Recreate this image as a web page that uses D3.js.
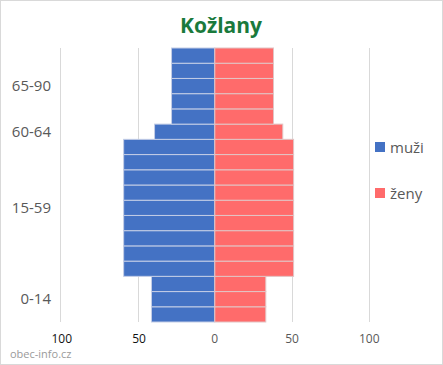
<!DOCTYPE html>
<html>
<head>
<meta charset="utf-8">
<script src="https://cdn.jsdelivr.net/npm/d3@7"></script>
<style>
  body { margin: 0; background: #fff; }
  svg text { font-family: "Open Sans", sans-serif; }
</style>
</head>
<body>
<svg id="canvas"></svg>
<script>
// age groups from bottom to top, each spread over several rows
let groups = ["0-14", "15-59", "60-64", "65-90"]
let rowCounts = [3, 9, 1, 5]
let men = [41, 59, 39, 28]
let women = [33, 51, 44, 38]
let xTicks = [-100, -50, 0, 50, 100]
let seriesNames = ["muži", "ženy"]

let width = 443
let height = 365

let canvas = d3.select("#canvas")
  .attr("width", width)
  .attr("height", height)

// chart border
canvas.append("rect")
  .attr("x", 0.5).attr("y", 0.5)
  .attr("width", width - 1).attr("height", height - 1)
  .attr("fill", "#fff")
  .attr("stroke", "#d9d9d9")

// expand groups into rows
let rows = []
groups.forEach((g, i) => {
  for (let k = 0; k < rowCounts[i]; k++) {
    rows.push({ group: i, men: men[i], women: women[i] })
  }
})
rows.forEach((r, i) => r.idx = i)

let plotTop = 48, plotBottom = 322
let x = d3.scaleLinear().domain([-100, 100]).range([60.3, 369.3])
let y = d3.scaleBand().domain(rows.map(r => r.idx)).range([plotBottom, plotTop]).padding(0)

// title
canvas.append("text")
  .attr("x", 221).attr("y", 33)
  .attr("text-anchor", "middle")
  .attr("font-size", 21).attr("font-weight", "bold")
  .attr("fill", "#1a7a3c")
  .text("Kožlany")

// vertical gridlines
canvas.selectAll("line.grid")
  .data(xTicks.filter(t => t != 0))
  .enter()
  .append("line")
  .attr("class", "grid")
  .attr("x1", d => Math.round(x(d)) + 0.5)
  .attr("x2", d => Math.round(x(d)) + 0.5)
  .attr("y1", plotTop).attr("y2", plotBottom)
  .attr("stroke", "#d9d9d9")

// bars
canvas.selectAll("rect.men")
  .data(rows)
  .enter()
  .append("rect")
  .attr("class", "men")
  .attr("x", d => x(-d.men))
  .attr("y", d => y(d.idx))
  .attr("width", d => x(0) - x(-d.men))
  .attr("height", y.bandwidth())
  .attr("fill", "#4472c4")
  .attr("stroke", "#c3cde6")
  .attr("stroke-width", 1)

canvas.selectAll("rect.women")
  .data(rows)
  .enter()
  .append("rect")
  .attr("class", "women")
  .attr("x", x(0))
  .attr("y", d => y(d.idx))
  .attr("width", d => x(d.women) - x(0))
  .attr("height", y.bandwidth())
  .attr("fill", "#ff6b6b")
  .attr("stroke", "#e2c4c4")
  .attr("stroke-width", 1)

// group labels
groups.forEach((g, i) => {
  let groupRows = rows.filter(r => r.group == i)
  let y0 = y(groupRows[0].idx) + y.bandwidth()
  let y1 = y(groupRows[groupRows.length - 1].idx)
  canvas.append("text")
    .attr("x", 51)
    .attr("y", (y0 + y1) / 2 + 5)
    .attr("text-anchor", "end")
    .attr("font-size", 15)
    .attr("fill", "#595959")
    .text(g)
})

// x tick labels
canvas.selectAll("text.tick")
  .data(xTicks)
  .enter()
  .append("text")
  .attr("class", "tick")
  .attr("x", d => x(d) + (d < 0 ? 1.5 : 0))
  .attr("y", 343)
  .attr("text-anchor", "middle")
  .attr("font-size", 12)
  .attr("fill", d => d < 0 ? "#111" : "#595959")
  .text(d => Math.abs(d))

// legend
let legendColors = ["#4472c4", "#ff6b6b"]
seriesNames.forEach((s, i) => {
  canvas.append("rect")
    .attr("x", 375).attr("y", 142 + i * 46)
    .attr("width", 10).attr("height", 10)
    .attr("fill", legendColors[i])
  canvas.append("text")
    .attr("x", 390).attr("y", 153 + i * 46)
    .attr("font-size", 15)
    .attr("fill", "#595959")
    .text(s)
})

// watermark
canvas.append("text")
  .attr("x", 10).attr("y", 358)
  .attr("font-size", 11)
  .attr("fill", "#9a9a9a")
  .text("obec-info.cz")
</script>
</body>
</html>
